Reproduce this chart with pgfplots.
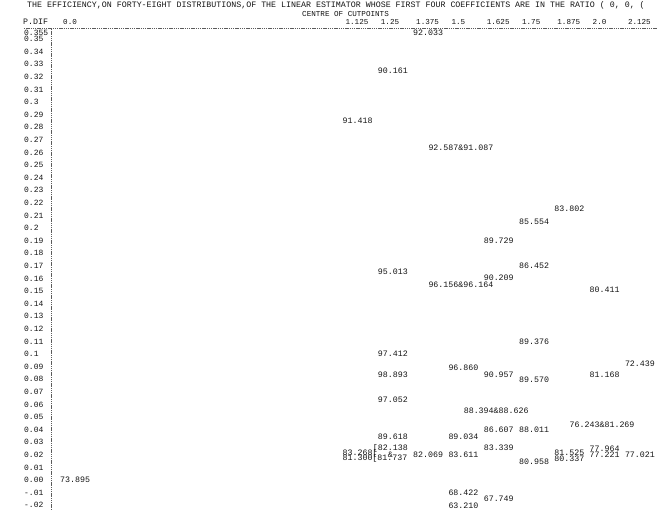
\documentclass[border=0pt]{standalone}
\usepackage{pgfplots}
\pgfplotsset{compat=1.18}
\usepackage{fontspec}
\newfontfamily\mono{Liberation Mono}
\newcommand\valfont{\mono\fontsize{8.3}{9}\selectfont}
\newcommand\ytfont{\mono\fontsize{8.0}{9}\selectfont}
\newcommand\tickfont{\mono\fontsize{7.6}{8}\selectfont}
\definecolor{ink}{gray}{0.08}

\pgfplotstableread{
x y label
0 0.000 73.895
10 0.355 92.033
9 0.325 90.161
8 0.285 91.418
14 0.215 83.802
13 0.205 85.554
12 0.19 89.729
13 0.17 86.452
9 0.165 95.013
12 0.161 90.209
15 0.151 80.411
13 0.11 89.376
9 0.10 97.412
16 0.092 72.439
11 0.089 96.860
9 0.084 98.893
12 0.084 90.957
15 0.084 81.168
13 0.08 89.570
9 0.064 97.052
12 0.04 86.607
13 0.04 88.011
9 0.0345 89.618
11 0.0345 89.034
12 0.026 83.339
15 0.025 77.964
8 0.0215 {83.268[}
14 0.0215 81.525
10 0.020 82.069
11 0.020 83.611
15 0.020 77.221
16 0.020 77.021
8 0.0175 {81.300[81.737}
13 0.0148 80.958
14 0.0172 80.337
11 -0.010 68.422
12 -0.015 67.749
11 -0.0205 63.210
}\singles

\pgfplotstableread{
x y label
11 0.264 {92.587\&91.087}
11 0.155 {96.156\&96.164}
12 0.055 {88.394\&88.626}
15 0.044 {76.243\&81.269}
}\pairs

\pgfplotstableread{
x y label
9 0.0250 {[82.138}
}\bracket

\pgfplotstableread{
x y label
9 0.0198 {\&}
}\amp

\begin{document}
\begin{tikzpicture}
\useasboundingbox (-51pt,-20pt) rectangle (606pt,510pt);
\begin{axis}[
  scale only axis, width=606pt, height=481.7pt,
  xmin=-0.255, xmax=16.912, ymin=-0.0237, ymax=0.3586,
  axis line style={draw=none}, major tick length=0pt,
  clip=false,
  xtick={0,8,9,10,11,12,13,14,15,16},
  xticklabels={0.0,1.125,1.25,1.375,1.5,1.625,1.75,1.875,2.0,2.125},
  xticklabel pos=upper,
  xticklabel style={anchor=west, inner sep=0pt, xshift=3pt, yshift=6.5pt, font=\tickfont, text=ink},
  ytick={-0.02,-0.01,0,0.01,0.02,0.03,0.04,0.05,0.06,0.07,0.08,0.09,0.1,0.11,0.12,0.13,0.14,0.15,0.16,0.17,0.18,0.19,0.2,0.21,0.22,0.23,0.24,0.25,0.26,0.27,0.28,0.29,0.3,0.31,0.32,0.33,0.34,0.35,0.355},
  yticklabels={-.02,-.01,0.00,0.01,0.02,0.03,0.04,0.05,0.06,0.07,0.08,0.09,0.1,0.11,0.12,0.13,0.14,0.15,0.16,0.17,0.18,0.19,0.2,0.21,0.22,0.23,0.24,0.25,0.26,0.27,0.28,0.29,0.3,0.31,0.32,0.33,0.34,0.35,0.355},
  yticklabel style={anchor=west, inner sep=0pt, xshift=-27pt, font=\ytfont, text=ink},
  every node near coord/.style={anchor=west, inner sep=0pt, font=\valfont, text=ink},
]
\addplot[only marks, mark=*, mark size=0pt, mark options={draw=none,fill=none},
  nodes near coords, point meta=explicit symbolic]
  table[x=x, y=y, meta=label] {\singles};
\addplot[only marks, mark=*, mark size=0pt, mark options={draw=none,fill=none},
  nodes near coords, point meta=explicit symbolic,
  nodes near coords style={xshift=-20pt}]
  table[x=x, y=y, meta=label] {\pairs};
\addplot[only marks, mark=*, mark size=0pt, mark options={draw=none,fill=none},
  nodes near coords, point meta=explicit symbolic,
  nodes near coords style={xshift=-5pt}]
  table[x=x, y=y, meta=label] {\bracket};
\addplot[only marks, mark=*, mark size=0pt, mark options={draw=none,fill=none},
  nodes near coords, point meta=explicit symbolic,
  nodes near coords style={xshift=10pt}]
  table[x=x, y=y, meta=label] {\amp};
\end{axis}
\draw[ink!70, dash pattern=on 1.4pt off 0.8pt, line width=0.5pt] (-27pt,481.7pt) -- (606pt,481.7pt);
\draw[ink!70, dash pattern=on 1.4pt off 0.8pt, line width=0.5pt] (0pt,0pt) -- (0pt,481.7pt);
\node[anchor=west, inner sep=0pt, font=\valfont, text=ink] at (-24pt,505pt)
  {THE EFFICIENCY,ON FORTY-EIGHT DISTRIBUTIONS,OF THE LINEAR ESTIMATOR WHOSE FIRST FOUR COEFFICIENTS ARE IN THE RATIO ( 0, 0, (};
\node[anchor=west, inner sep=0pt, font=\valfont, text=ink] at (-28pt,488pt) {P.DIF};
\node[anchor=west, inner sep=0pt, font=\tickfont, text=ink] at (251pt,496pt) {CENTRE OF CUTPOINTS};
\end{tikzpicture}
\end{document}
